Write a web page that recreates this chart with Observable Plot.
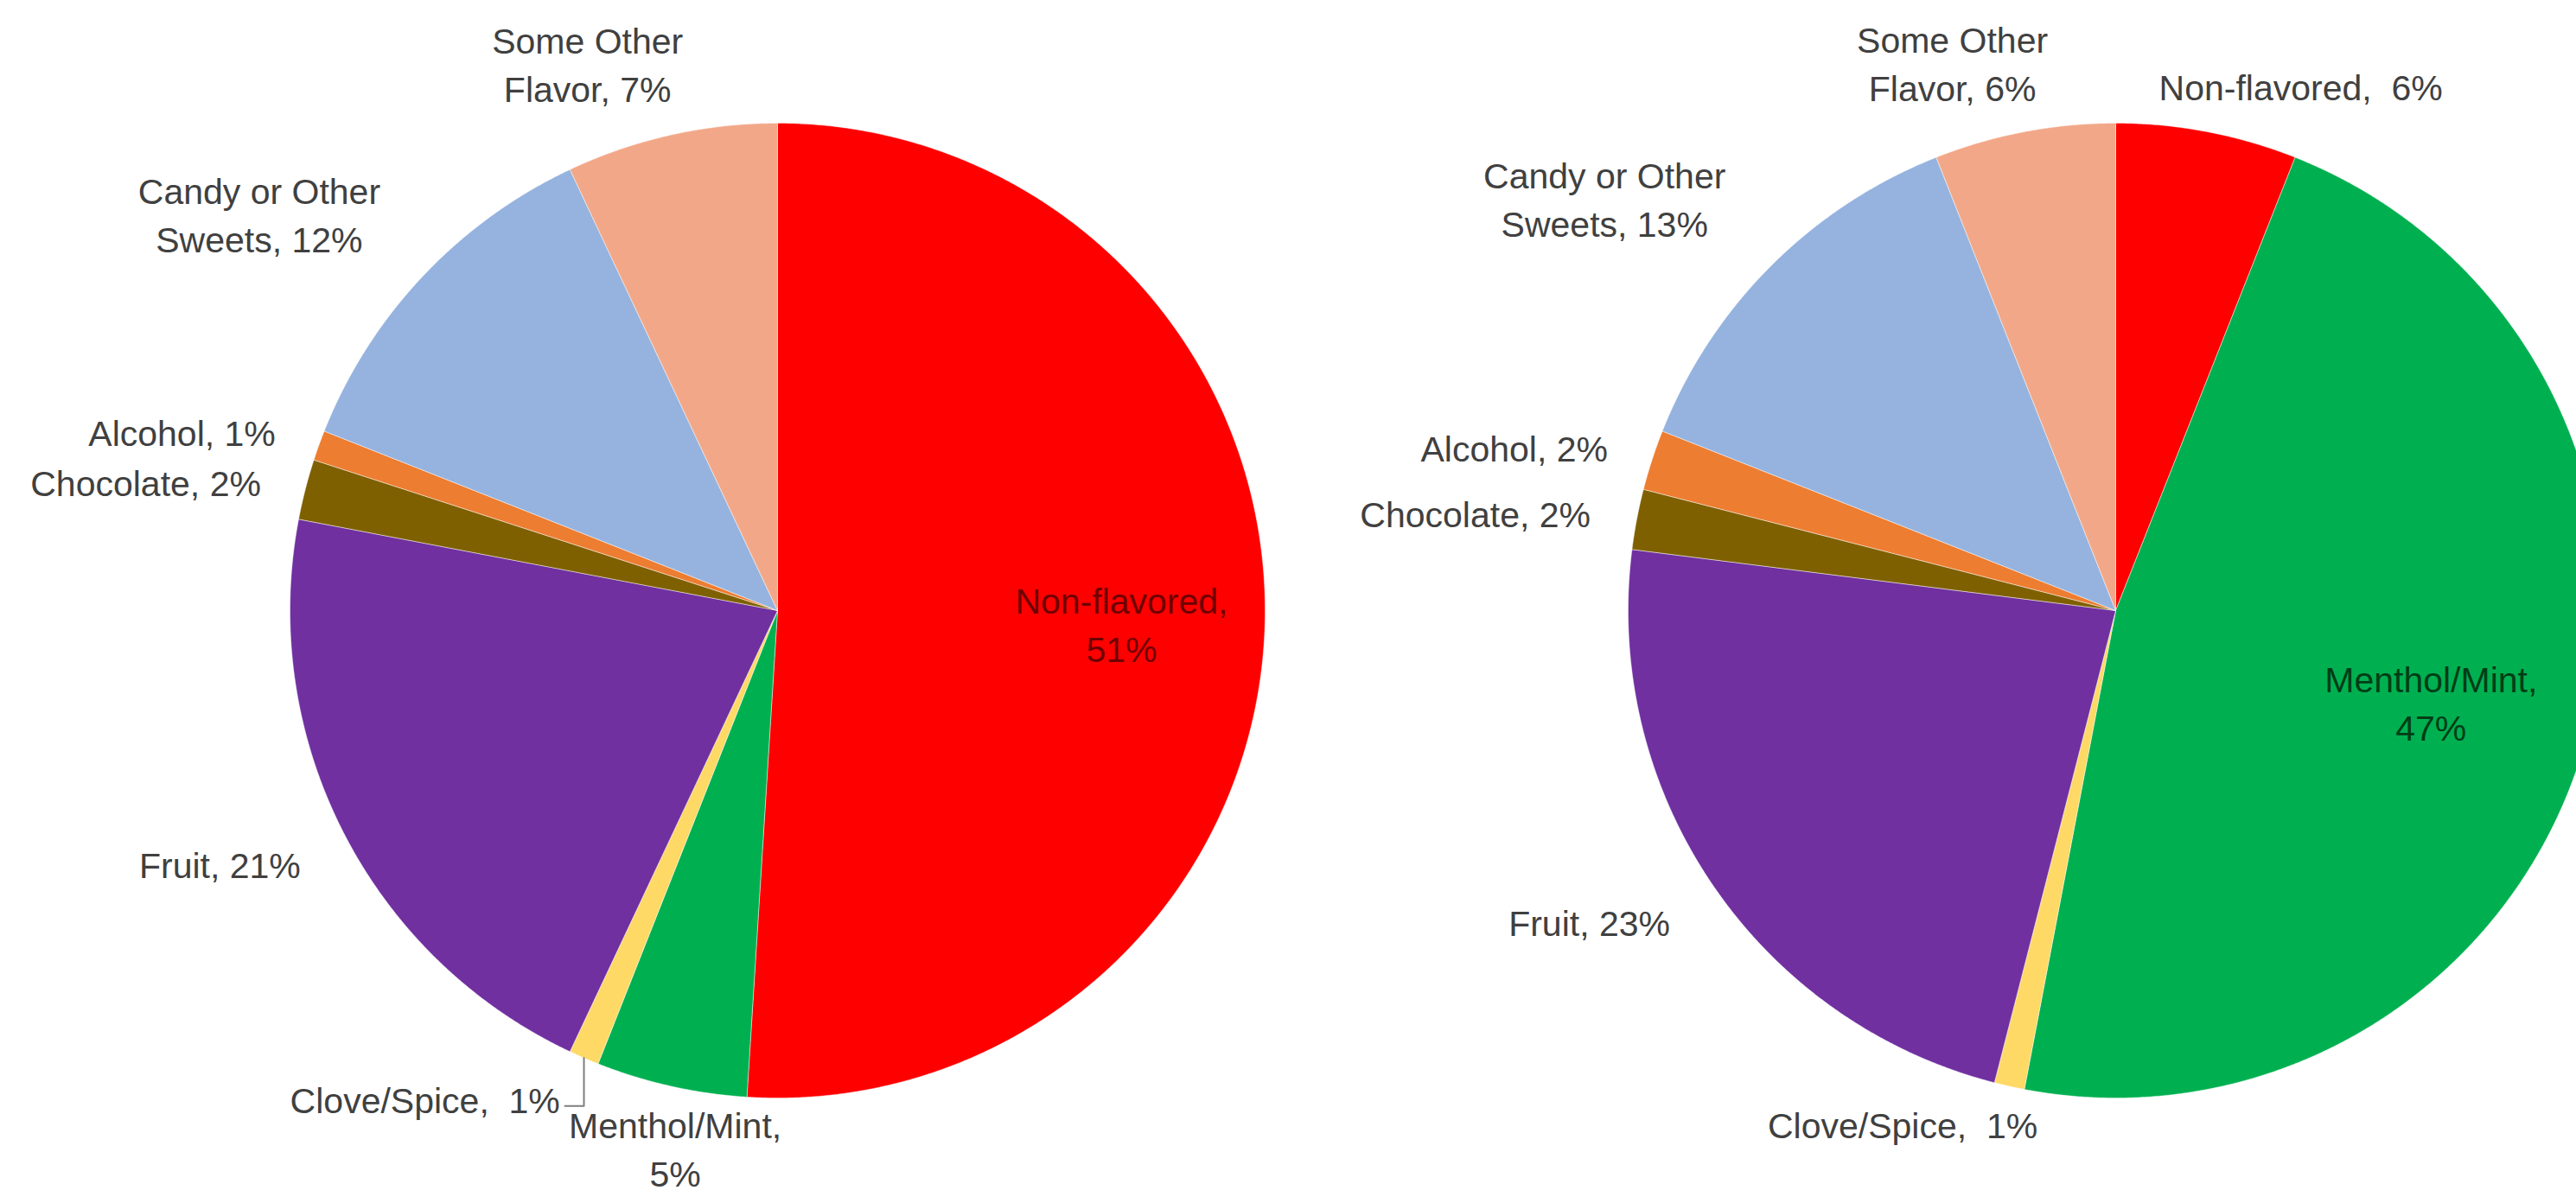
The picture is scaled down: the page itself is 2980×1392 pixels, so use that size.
<!DOCTYPE html>
<html><head><meta charset="utf-8">
<script src="https://cdn.jsdelivr.net/npm/d3@7"></script>
<script src="https://cdn.jsdelivr.net/npm/@observablehq/plot@0.6"></script>
<style>html,body{margin:0;padding:0;background:#fff;overflow:hidden}</style>
</head><body><div id="chart"></div>
<script>
// ---- data ----
const categories = ["Non-flavored", "Menthol/Mint", "Clove/Spice", "Fruit", "Chocolate", "Alcohol", "Candy or Other Sweets", "Some Other Flavor"];
const leftValues = [51, 5, 1, 21, 2, 1, 12, 7];
const rightValues = [6, 47, 1, 23, 2, 2, 13, 6];
const sliceColors = ["#FF0000", "#00B050", "#FFD966", "#7030A0", "#7F6000", "#ED7D31", "#95B3DE", "#F2A888"];
const insideTextColors = ["#6e0000", "#003d16", "#404040", "#404040", "#404040", "#404040", "#404040", "#404040"];
// label text pieces (category name as wrapped on the chart, separator before the value)
const labelNames = ["Non-flavored", "Menthol/Mint", "Clove/Spice", "Fruit", "Chocolate", "Alcohol", "Candy or Other\nSweets", "Some Other\nFlavor"];
const leftSeparators = [",\n", ",\n", ",  ", ", ", ", ", ", ", ", ", ", "];
const rightSeparators = [",  ", ",\n", ",  ", ", ", ", ", ", ", ", ", ", "];

// ---- layout (label placement relative to slice mid-angle, in radii / degrees) ----
const leftLabelRadius = [0.706, 1.12, 1.233, 1.255, 1.323, 1.276, 1.340, 1.191];
const leftLabelTurn = [0.2, -1.8, 12.5, 2.7, -2.8, -3.0, -5.7, -6.5];
const rightLabelRadius = [1.143, 0.673, 1.137, 1.253, 1.329, 1.279, 1.349, 1.176];
const rightLabelTurn = [8.6, -0.15, 10, 3.7, -2.05, -2.7, -6, -5.75];
const leftLeaders = [2]; // slice index with a leader line (left pie)

const W = 2980, H = 1392, R = 564;
const leftCenterPx = [899, 706], rightCenterPx = [2447, 706];
const xDomain = [-leftCenterPx[0] / R, (W - leftCenterPx[0]) / R];
const yDomain = [-(H - leftCenterPx[1]) / R, leftCenterPx[1] / R];
const pies = [
  {id: "left", values: leftValues, cx: 0, cy: 0, seps: leftSeparators, lr: leftLabelRadius, lt: leftLabelTurn, leaders: leftLeaders},
  {id: "right", values: rightValues, cx: (rightCenterPx[0] - leftCenterPx[0]) / R, cy: 0, seps: rightSeparators, lr: rightLabelRadius, lt: rightLabelTurn, leaders: []}
];

const rad = (deg) => deg * Math.PI / 180;
const slicePts = [], labels = [], leaderPts = [];
for (const p of pies) {
  const total = d3.sum(p.values);
  let acc = 0;
  p.values.forEach((v, i) => {
    const a0 = acc / total * 360; acc += v; const a1 = acc / total * 360;
    const key = p.id + "-" + i;
    const n = Math.max(2, Math.ceil((a1 - a0) / 0.25));
    slicePts.push({key, x: p.cx, y: p.cy, color: sliceColors[i], cat: categories[i]});
    for (let k = 0; k <= n; k++) {
      const a = rad(a0 + (a1 - a0) * k / n);
      slicePts.push({key, x: p.cx + Math.sin(a), y: p.cy + Math.cos(a), color: sliceColors[i], cat: categories[i]});
    }
    slicePts.push({key, x: p.cx, y: p.cy, color: sliceColors[i], cat: categories[i]});
    const mid = (a0 + a1) / 2;
    const am = rad(mid + p.lt[i]);
    const r = p.lr[i];
    const lx = p.cx + r * Math.sin(am), ly = p.cy + r * Math.cos(am);
    labels.push({x: lx, y: ly, text: labelNames[i] + p.seps[i] + v + "%", fill: r < 1 ? insideTextColors[i] : "#404040"});
    if (p.leaders.includes(i)) {
      const sx = p.cx + Math.sin(rad(mid)), sy = p.cy + Math.cos(rad(mid));
      const cornerY = ly - 10 / R;
      leaderPts.push({key, x: sx, y: sy}, {key, x: sx, y: cornerY}, {key, x: sx - 22 / R, y: cornerY});
    }
  });
}

const chart = Plot.plot({
  width: W, height: H,
  margin: 0,
  x: {domain: xDomain, axis: null},
  y: {domain: yDomain, axis: null},
  color: {type: "identity"},
  style: {background: "#fff"},
  marks: [
    Plot.line(slicePts, {x: "x", y: "y", z: "key", fill: "color", stroke: "white", strokeWidth: 1, strokeOpacity: 0.45, curve: "linear"}),
    Plot.line(leaderPts, {x: "x", y: "y", z: "key", stroke: "#7f7f7f", strokeWidth: 2}),
    Plot.text(labels, {x: "x", y: "y", text: "text", fill: "fill", fontSize: 41, lineHeight: 1.37, fontFamily: "Liberation Sans", textAnchor: "middle"})
  ]
});
document.getElementById("chart").appendChild(chart);
</script>
</body></html>
